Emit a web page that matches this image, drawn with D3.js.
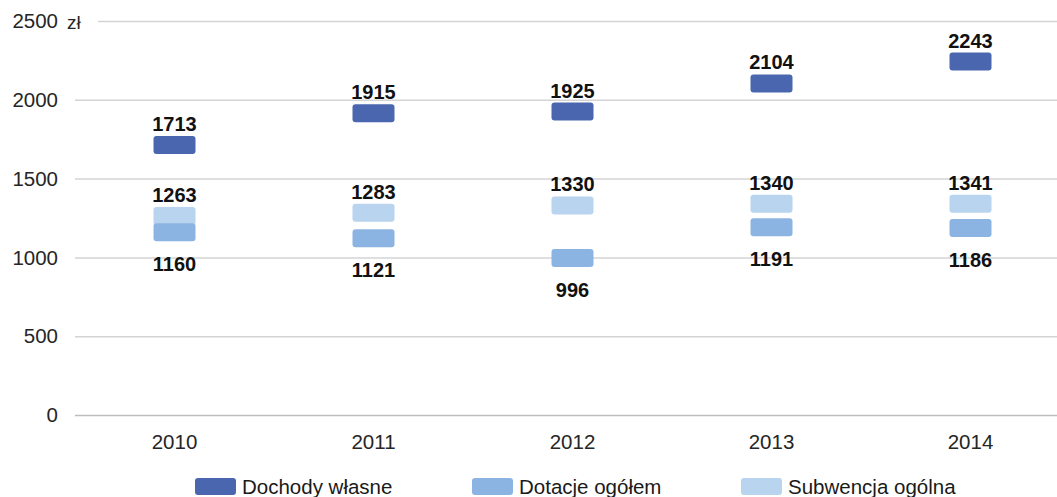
<!DOCTYPE html>
<html>
<head>
<meta charset="utf-8">
<script src="https://cdn.jsdelivr.net/npm/d3@7"></script>
<style>
body { margin: 0; background: #fff; }
text { font-family: "Liberation Sans", Arial, sans-serif; }
</style>
</head>
<body>
<div class="content"></div>
<script>
var years = ["2010", "2011", "2012", "2013", "2014"];
var dochody = [1713, 1915, 1925, 2104, 2243];
var dotacje = [1160, 1121, 996, 1191, 1186];
var subwencja = [1263, 1283, 1330, 1340, 1341];
var yTicks = [0, 500, 1000, 1500, 2000, 2500];
var seriesNames = ["Dochody własne", "Dotacje ogółem", "Subwencja ogólna"];
var colors = ["#4a66ae", "#8cb4e2", "#b8d4ef"];

var width = 1057, height = 497;
var svg = d3.select(".content").append("svg").attr("width", width).attr("height", height);

var x = d3.scalePoint().domain(years).range([75, 1070]).padding(0.5);
var y = d3.scaleLinear().domain([0, 2500]).range([415, 21]);

// gridlines
svg.append("g").selectAll("line").data(yTicks).enter().append("line")
	.attr("x1", function(d){ return d == 2500 ? 98 : 75; })
	.attr("x2", width)
	.attr("y1", function(d){ return y(d) + 0.5; })
	.attr("y2", function(d){ return y(d) + 0.5; })
	.attr("stroke", function(d){ return d == 0 ? "#bdbdbd" : "#d4d4d4"; })
	.attr("stroke-width", 1.5);

// y labels
svg.append("g").selectAll("text").data(yTicks).enter().append("text")
	.attr("x", 58).attr("y", function(d){ return y(d); })
	.attr("dy", "0.35em").attr("text-anchor", "end")
	.attr("font-size", 20.5).attr("fill", "#262626")
	.text(function(d){ return d; });
svg.append("text").attr("x", 67).attr("y", y(2500) + 1).attr("dy", "0.35em")
	.attr("font-size", 19).attr("fill", "#262626").text("zł");

// x labels
svg.append("g").selectAll("text").data(years).enter().append("text")
	.attr("x", function(d){ return x(d); }).attr("y", 449)
	.attr("text-anchor", "middle").attr("font-size", 20.5).attr("fill", "#262626")
	.text(function(d){ return d; });

var series = [
	{ vals: dochody, color: colors[0], pos: "above" },
	{ vals: dotacje, color: colors[1], pos: "below" },
	{ vals: subwencja, color: colors[2], pos: "above" }
];
// draw subwencja first so dotacje sits on top where they overlap
var order = [2, 1, 0];
order.forEach(function(si){
	var s = series[si];
	var g = svg.append("g");
	g.selectAll("rect").data(s.vals).enter().append("rect")
		.attr("x", function(d, i){ return x(years[i]) - 21; })
		.attr("y", function(d){ return y(d) - 9; })
		.attr("width", 42).attr("height", 18)
		.attr("rx", 3).attr("fill", s.color);
});
order.forEach(function(si){
	var s = series[si];
	svg.append("g").selectAll("text").data(s.vals).enter().append("text")
		.attr("x", function(d, i){ return x(years[i]); })
		.attr("y", function(d){ return s.pos == "above" ? y(d) - 14 : y(d) + 39; })
		.attr("text-anchor", "middle").attr("font-size", 20).attr("font-weight", "bold")
		.attr("fill", "#111")
		.text(function(d){ return d; });
});

// legend
var legX = [195, 472, 741];
var leg = svg.append("g").selectAll("g").data(seriesNames).enter().append("g")
	.attr("transform", function(d, i){ return "translate(" + legX[i] + ",478)"; });
leg.append("rect").attr("width", 41).attr("height", 17).attr("rx", 3)
	.attr("fill", function(d, i){ return colors[i]; });
leg.append("text").attr("x", 47).attr("y", 16).attr("font-size", 20.5).attr("fill", "#1a1a1a")
	.text(function(d){ return d; });
</script>
</body>
</html>
